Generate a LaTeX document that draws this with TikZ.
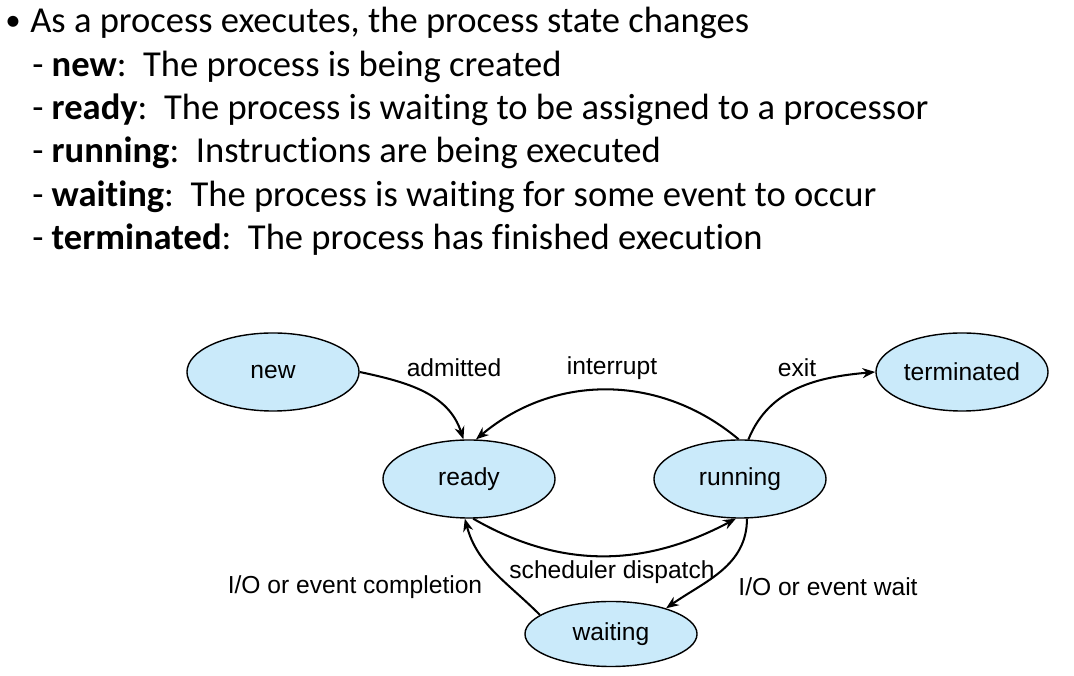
\documentclass[tikz,border=0pt]{standalone}
\usepackage{fontspec}
\setmainfont{Carlito}[Ligatures=NoCommon]
\newfontfamily\diagfont{Liberation Sans}
\usetikzlibrary{shapes,arrows.meta}
\definecolor{stateblue}{RGB}{202,234,250}
\tikzstyle{state}    = [ellipse, draw=black, line width=1pt, fill=stateblue, minimum width=4.3cm, minimum height=1.95cm, inner sep=0pt, font=\diagfont\fontsize{17.5}{20}\selectfont]
\tikzstyle{edgetext} = [font=\diagfont\fontsize{17.5}{20}\selectfont, inner sep=0pt]
\tikzstyle{trans}    = [line width=1.45pt, -{Stealth[length=0.32cm, width=0.25cm]}]
\tikzstyle{bullet}   = [anchor=base west, inner sep=0pt, font=\fontsize{26}{30}\selectfont]

\begin{document}
\begin{tikzpicture}[x=0.025cm, y=0.025cm]
    \useasboundingbox (0,0) rectangle (1074,676);

    % text above the diagram
    \node[bullet, font=\fontsize{22}{26}\selectfont] (dot) at (5,645) {•};
    \node[bullet] (head) at (30,643) {As a process executes, the process state changes};
    \node[bullet] (s1) at (32,599) {- \textbf{new}:\ \ The process is being created};
    \node[bullet] (s2) at (32,556) {- \textbf{ready}:\ \ The process is waiting to be assigned to a processor};
    \node[bullet] (s3) at (32,513) {- \textbf{running}:\ \ Instructions are being executed};
    \node[bullet] (s4) at (32,469) {- \textbf{waiting}:\ \ The process is waiting for some event to occur};
    \node[bullet] (s5) at (32,426) {- \textbf{terminated}:\ \ The process has finished execution};

    % states
    \node[state] (new) at (273,304) {new};
    \node[state] (ready) at (469,197) {ready};
    \node[state] (running) at (740,197) {running};
    \node[state] (terminated) at (962,304) {terminated};
    \node[state, minimum height=1.625cm] (waiting) at (611,42) {waiting};

    % transitions
    \draw[trans] (new.east) to[out=-12, in=108] (ready.98);
    \draw[trans] (running.92) to[out=140, in=40] (ready.80);
    \draw[trans] (running.78) to[out=68, in=185] (terminated.west);
    \draw[trans] (ready.-84) to[out=-30, in=208] (running.-96);
    \draw[trans] (running.-80) to[out=-90, in=35] (waiting.25);
    \draw[trans] (waiting.165) to[out=135, in=-75] (ready.-96);

    % transition labels
    \node[edgetext] (ladm) at (454,308) {admitted};
    \node[edgetext] (lint) at (612,308) {interrupt};
    \node[edgetext] (lexit) at (797,308) {exit};
    \node[edgetext] (lsched) at (612,104) {scheduler dispatch};
    \node[edgetext] (lcomp) at (355,89) {I/O or event completion};
    \node[edgetext] (lwait) at (828,89) {I/O or event wait};
\end{tikzpicture}
\end{document}
